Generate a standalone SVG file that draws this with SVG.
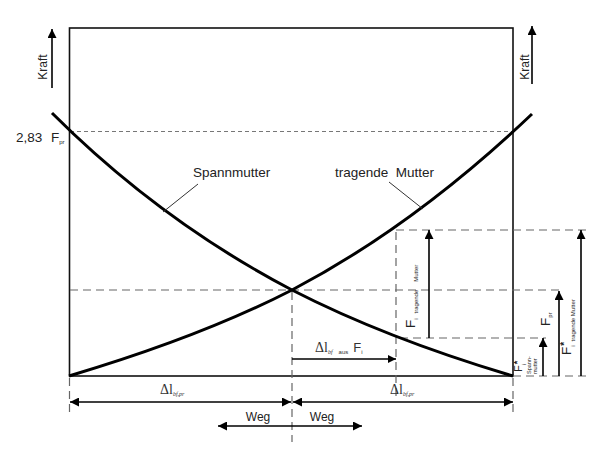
<svg xmlns="http://www.w3.org/2000/svg" width="600" height="449" viewBox="0 0 600 449">
<defs>
<marker id="ah" viewBox="0 0 10 10" refX="10" refY="5" markerWidth="12" markerHeight="9" orient="auto-start-reverse" markerUnits="userSpaceOnUse"><path d="M0,0 L10,5 L0,10 z" fill="#000"/></marker>
<marker id="ahs" viewBox="0 0 10 10" refX="10" refY="5" markerWidth="10" markerHeight="8" orient="auto-start-reverse" markerUnits="userSpaceOnUse"><path d="M0,0 L10,5 L0,10 z" fill="#000"/></marker>
<style>
.box{fill:none;stroke:#111;stroke-width:1.6}
.curve{fill:none;stroke:#000;stroke-width:3}
.lead{fill:none;stroke:#333;stroke-width:1}
.dash{fill:none;stroke:#666;stroke-width:1.2;stroke-dasharray:8 5}
.fdash{fill:none;stroke:#777;stroke-width:1;stroke-dasharray:4 3}
.arr{fill:none;stroke:#000;stroke-width:1.6}
.t{font-family:"Liberation Sans",Arial,sans-serif;fill:#222}
.s{font-family:"Liberation Serif","Times New Roman",serif;fill:#333}
.star{font-weight:bold}
</style>
</defs>
<g id="frame">
<rect class="box" x="69.5" y="28" width="443.5" height="348"/>
</g>
<g id="connectors">
<line class="fdash" x1="70" y1="131.5" x2="513" y2="131.5"/>
<line class="dash" x1="70" y1="290" x2="564" y2="290"/>
<line class="dash" x1="396" y1="230" x2="587" y2="230"/>
<line class="dash" x1="400" y1="338" x2="546" y2="338"/>
<line class="dash" x1="513" y1="376" x2="587" y2="376"/>
<line class="dash" x1="292" y1="292" x2="292" y2="442"/>
<line class="dash" x1="396" y1="232" x2="396" y2="396"/>
<line class="dash" x1="69.5" y1="378" x2="69.5" y2="416"/>
<line class="dash" x1="513" y1="378" x2="513" y2="416"/>
<path class="curve" d="M52,113 C132,193 212,248 292,290 C366,328 439,354 513,376"/>
<path class="curve" d="M69,376 C143,354 218,328 292,290 C372,248 452,190 532,114"/>
<line class="lead" x1="163" y1="212" x2="198" y2="184"/>
<line class="lead" x1="423" y1="209" x2="389" y2="182"/>
<line class="arr" x1="52" y1="88" x2="52" y2="29" marker-end="url(#ah)"/>
<line class="arr" x1="532" y1="84" x2="532" y2="26" marker-end="url(#ah)"/>
<line class="arr" x1="429" y1="338" x2="429" y2="230" marker-end="url(#ah)"/>
<line class="arr" x1="559" y1="376" x2="559" y2="291" marker-end="url(#ah)"/>
<line class="arr" x1="581" y1="376" x2="581" y2="230" marker-end="url(#ah)"/>
<line class="arr" x1="543" y1="376" x2="543" y2="338" marker-end="url(#ah)"/>
<line class="arr" x1="292" y1="359" x2="396" y2="359" marker-end="url(#ahs)"/>
<line class="arr" x1="70" y1="402" x2="291" y2="402" marker-start="url(#ah)" marker-end="url(#ah)"/>
<line class="arr" x1="293" y1="402" x2="513" y2="402" marker-start="url(#ah)" marker-end="url(#ah)"/>
<line class="arr" x1="292" y1="426" x2="218" y2="426" marker-end="url(#ah)"/>
<line class="arr" x1="292" y1="426" x2="362" y2="426" marker-end="url(#ah)"/>
</g>
<g id="labels">
<text class="t" font-size="12" transform="rotate(-90 47 67)" x="47" y="67" text-anchor="middle">Kraft</text>
<text class="t" font-size="12" transform="rotate(-90 529 67)" x="529" y="67" text-anchor="middle">Kraft</text>
<text class="t" font-size="13.5" x="16" y="142" fill="#444">2,83</text>
<text class="t" font-size="13.5" x="51" y="142" fill="#444">F<tspan font-size="6" dy="2">pr</tspan></text>
<text class="t" font-size="13.5" x="193" y="177">Spannmutter</text>
<text class="t" font-size="13.5" x="335" y="177" xml:space="preserve">tragende  Mutter</text>
<text class="s" font-size="14" x="160" y="394">Δl<tspan font-size="6" dy="2" font-style="italic">bf,pr</tspan></text>
<text class="s" font-size="14" x="390" y="394">Δl<tspan font-size="6" dy="2" font-style="italic">bf,pr</tspan></text>
<text class="s" font-size="14" x="315" y="352">Δl<tspan font-size="6" dy="2" font-style="italic">bf</tspan><tspan font-size="6" dx="6" font-family="Liberation Sans, sans-serif">aus</tspan><tspan font-size="13" dx="5" dy="-2" font-family="Liberation Sans, sans-serif">F</tspan><tspan font-size="6" dy="2" font-family="Liberation Sans, sans-serif">i</tspan></text>
<text class="t" font-size="12" x="258" y="421" text-anchor="middle">Weg</text>
<text class="t" font-size="12" x="322" y="421" text-anchor="middle">Weg</text>
<text class="t" font-size="13.5" transform="rotate(-90 415 328)" x="415" y="328">F<tspan font-size="6" dy="3">i</tspan><tspan font-size="6" dx="5">tragende</tspan><tspan font-size="6" dx="8">Mutter</tspan></text>
<text class="t" font-size="13.5" transform="rotate(-90 550 326)" x="550" y="326">F<tspan font-size="6" dy="2">pr</tspan></text>
<text class="t" font-size="13.5" transform="rotate(-90 571 355)" x="571" y="355">F<tspan class="star" font-size="10" dy="-3" dx="1">*</tspan><tspan font-size="6" dy="7" dx="-5">i</tspan><tspan font-size="6" dx="4">tragende Mutter</tspan></text>
<text class="t" font-size="11" transform="rotate(-90 522 372)" x="522" y="372">F<tspan class="star" font-size="9" dy="-2" dx="1">*</tspan><tspan font-size="5" dy="6" dx="-4">i</tspan></text>
<text class="t" font-size="5.5" transform="rotate(-90 531 374)" x="531" y="374">Spann-</text>
<text class="t" font-size="5.5" transform="rotate(-90 537 374)" x="537" y="374">mutter</text>
</g>
</svg>
